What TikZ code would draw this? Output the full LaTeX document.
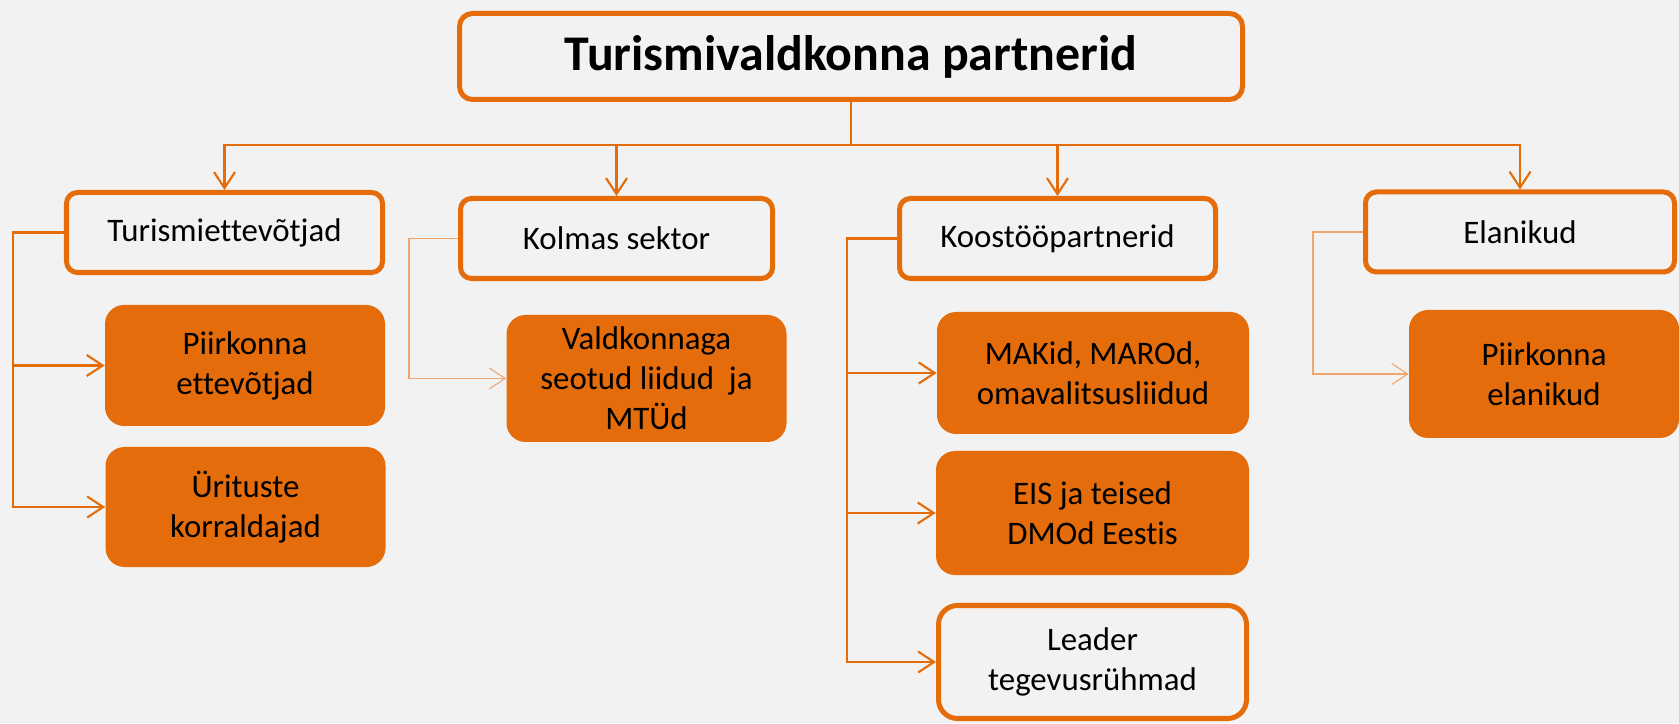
\documentclass[tikz,border=0pt]{standalone}
\usepackage{fontspec}
\setmainfont[Ligatures=NoCommon]{Carlito}
\usetikzlibrary{arrows.meta}
\definecolor{orgmain}{HTML}{E46C0A}
\definecolor{orglight}{HTML}{EFA56C}
\definecolor{pagebg}{HTML}{F2F2F2}
\tikzset{
  titlebox/.style={draw=orgmain, fill=pagebg, line width=2.85pt, rounded corners=0.26cm, minimum width=15.66cm, minimum height=1.72cm, font=\fontsize{28.4}{34}\selectfont\bfseries},
  groupbox/.style={draw=orgmain, fill=pagebg, line width=2.85pt, rounded corners=0.22cm, minimum height=1.60cm, font=\fontsize{18.7}{22.8}\selectfont, align=center},
  itembox/.style={fill=orgmain, rounded corners=0.38cm, minimum width=5.60cm, font=\fontsize{18.7}{22.8}\selectfont, align=center},
  leaderbox/.style={draw=orgmain, fill=pagebg, line width=2.85pt, rounded corners=0.38cm, minimum width=6.16cm, minimum height=2.26cm, font=\fontsize{18.7}{22.8}\selectfont, align=center},
  buslink/.style={draw=orgmain, line width=1.2pt, -{Straight Barb[length=0.32cm, width=0.42cm]}},
  sidelink/.style={draw=orgmain, line width=1.2pt, -{Straight Barb[length=0.32cm, width=0.42cm]}},
  faintlink/.style={draw=orglight, line width=0.6pt, -{Straight Barb[length=0.32cm, width=0.42cm]}},
}
\begin{document}
\begin{tikzpicture}
\fill[pagebg] (0,0) rectangle (33.58,14.46);
\useasboundingbox (0,0) rectangle (33.58,14.46);
\node[titlebox] (partners) at (17.02,13.33) {Turismivaldkonna partnerid};
\node[groupbox, minimum width=6.32cm] (turism) at (4.49,9.81) {Turismiettevõtjad};
\node[groupbox, minimum width=6.24cm] (kolmas) at (12.33,9.69) {Kolmas sektor};
\node[groupbox, minimum width=6.32cm] (koostoo) at (21.15,9.69) {Koostööpartnerid};
\node[groupbox, minimum width=6.18cm] (elanik) at (30.40,9.82) {Elanikud};
\node[itembox, minimum height=2.42cm] (piirkfirm) at (4.90,7.15) {Piirkonna\\ettevõtjad};
\node[itembox, minimum height=2.40cm] (yritus) at (4.91,4.32) {Ürituste\\korraldajad};
\node[itembox, minimum height=2.54cm] (liidud) at (12.93,6.89) {Valdkonnaga\\seotud liidud\ \ ja\\MTÜd};
\node[itembox, minimum width=6.24cm, minimum height=2.44cm] (makid) at (21.86,7.00) {MAKid, MAROd,\\omavalitsusliidud};
\node[itembox, minimum width=6.26cm, minimum height=2.48cm] (eis) at (21.85,4.20) {EIS ja teised\\DMOd Eestis};
\node[leaderbox] (leader) at (21.85,1.22) {Leader\\tegevusrühmad};
\node[itembox, minimum width=5.40cm, minimum height=2.56cm] (piirkrahvas) at (30.88,6.98) {Piirkonna\\elanikud};
\coordinate (bus) at (17.02,11.56);
\draw[buslink, -] (partners.south) -- (bus);
\draw[buslink] (bus) -| (turism.north);
\draw[buslink] (bus) -| (kolmas.north);
\draw[buslink] (bus) -| (koostoo.north);
\draw[buslink] (bus) -| (elanik.north);
\draw[sidelink] (turism.west) -- ++(-1.02,0) |- (piirkfirm.west);
\draw[sidelink] (turism.west) -- ++(-1.02,0) |- (yritus.west);
\draw[faintlink] (kolmas.west) -- ++(-0.98,0) |- (liidud.west);
\draw[sidelink] (koostoo.west) -- ++(-1.00,0) |- (makid.west);
\draw[sidelink] (koostoo.west) -- ++(-1.00,0) |- (eis.west);
\draw[sidelink] (koostoo.west) -- ++(-1.00,0) |- (leader.west);
\draw[faintlink] (elanik.west) -- ++(-1.00,0) |- (piirkrahvas.west);
\end{tikzpicture}
\end{document}
